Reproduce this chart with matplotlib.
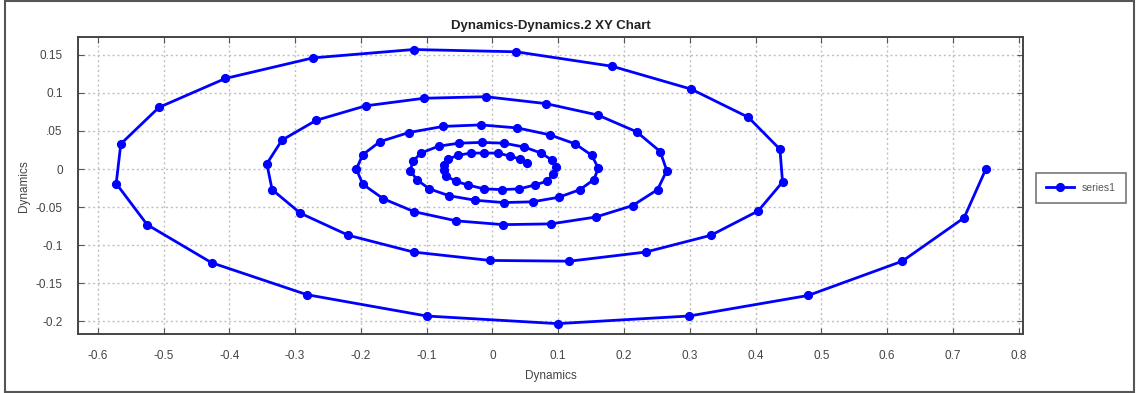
import matplotlib
matplotlib.use("Agg")
import matplotlib.pyplot as plt
from matplotlib.patches import Rectangle

# Phase-plane trajectory: Dynamics vs Dynamics.2
x_vals = [
    0.750, 0.717, 0.623, 0.480, 0.299, 0.099, -0.100, -0.282, -0.427, -0.525,
    -0.572, -0.565, -0.507, -0.406, -0.273, -0.120, 0.036, 0.182, 0.302, 0.389,
    0.437, 0.441, 0.404, 0.332, 0.233, 0.117, -0.004, -0.120, -0.219, -0.292,
    -0.335, -0.343, -0.320, -0.268, -0.193, -0.104, -0.010, 0.081, 0.160, 0.219,
    0.255, 0.265, 0.251, 0.213, 0.157, 0.089, 0.016, -0.055, -0.119, -0.166,
    -0.197, -0.207, -0.197, -0.171, -0.127, -0.075, -0.018, 0.038, 0.087, 0.126,
    0.151, 0.161, 0.154, 0.133, 0.101, 0.061, 0.017, -0.026, -0.066, -0.096,
    -0.115, -0.125, -0.121, -0.109, -0.082, -0.051, -0.016, 0.017, 0.048, 0.074,
    0.090, 0.096, 0.092, 0.083, 0.064, 0.041, 0.014, -0.013, -0.037, -0.056,
    -0.070, -0.074, -0.074, -0.067, -0.053, -0.033, -0.013, 0.008, 0.027, 0.042,
    0.053,
]
y_vals = [
    0.000, -0.064, -0.121, -0.166, -0.193, -0.203, -0.193, -0.165, -0.123, -0.073,
    -0.019, 0.033, 0.081, 0.119, 0.146, 0.157, 0.154, 0.135, 0.105, 0.068,
    0.026, -0.017, -0.055, -0.087, -0.109, -0.121, -0.120, -0.109, -0.087, -0.058,
    -0.027, 0.007, 0.038, 0.064, 0.083, 0.093, 0.095, 0.086, 0.071, 0.049,
    0.023, -0.002, -0.027, -0.048, -0.063, -0.072, -0.073, -0.068, -0.056, -0.039,
    -0.020, 0.000, 0.019, 0.036, 0.048, 0.056, 0.058, 0.054, 0.045, 0.033,
    0.018, 0.001, -0.014, -0.027, -0.037, -0.043, -0.044, -0.041, -0.035, -0.026,
    -0.014, -0.002, 0.010, 0.021, 0.030, 0.034, 0.035, 0.034, 0.029, 0.021,
    0.012, 0.003, -0.007, -0.016, -0.021, -0.026, -0.027, -0.026, -0.021, -0.016,
    -0.009, -0.001, 0.005, 0.013, 0.018, 0.021, 0.021, 0.021, 0.017, 0.013,
    0.008,
]

x_ticks = [-0.6, -0.5, -0.4, -0.3, -0.2, -0.1, 0, 0.1, 0.2, 0.3, 0.4, 0.5, 0.6, 0.7, 0.8]
x_ticklabels = ["-0.6", "-0.5", "-0.4", "-0.3", "-0.2", "-0.1", "0", "0.1", "0.2",
                "0.3", "0.4", "0.5", "0.6", "0.7", "0.8"]
y_ticks = [-0.2, -0.15, -0.1, -0.05, 0, 0.05, 0.1, 0.15]
y_ticklabels = ["-0.2", "-0.15", "-0.1", "-0.05", "0", ".05", "0.1", "0.15"]

plt.rcParams["font.family"] = ["Liberation Sans", "DejaVu Sans"]

fig = plt.figure(figsize=(11.36, 3.93), dpi=100)
ax = fig.add_axes([0.0687, 0.1494, 0.8321, 0.7556])

ax.plot(x_vals, y_vals, color="#0000ff", lw=2.0, marker="o", ms=5.6,
        markeredgecolor="#0000ff", markerfacecolor="#0000ff", label="series1")

ax.set_xlim(-0.63, 0.807)
ax.set_ylim(-0.217, 0.173)
ax.set_xticks(x_ticks)
ax.set_xticklabels(x_ticklabels)
ax.set_yticks(y_ticks)
ax.set_yticklabels(y_ticklabels)

ax.grid(True, color="#c0c0c0", linestyle=(0, (1.5, 2)), lw=1.0)
ax.tick_params(direction="in", length=4, width=0.8, color="#555555",
               top=True, right=True, labelsize=8.5, labelcolor="#444444", pad=11)
for s in ax.spines.values():
    s.set_color("#444444")
    s.set_linewidth(1.4)

ax.set_title("Dynamics-Dynamics.2 XY Chart", fontsize=9.5, fontweight="bold",
             color="#222222", pad=6)
ax.set_xlabel("Dynamics", fontsize=8.5, color="#444444", labelpad=6)
ax.set_ylabel("Dynamics", fontsize=8.5, color="#444444", labelpad=4)

leg = fig.legend(loc="upper left", bbox_to_anchor=(0.9094, 0.5675), fontsize=7.5,
                 frameon=True, fancybox=False, handlelength=2.7, borderpad=0.95,
                 handletextpad=0.75, borderaxespad=0.3, labelcolor="#555555")
leg.get_frame().set_edgecolor("#555555")
leg.get_frame().set_linewidth(1.2)

fig.patches.append(Rectangle((0.0044, 0.0025), 0.9936, 0.995, transform=fig.transFigure,
                             fill=False, edgecolor="#555555", lw=1.5))

fig.savefig("out.png", dpi=100)
